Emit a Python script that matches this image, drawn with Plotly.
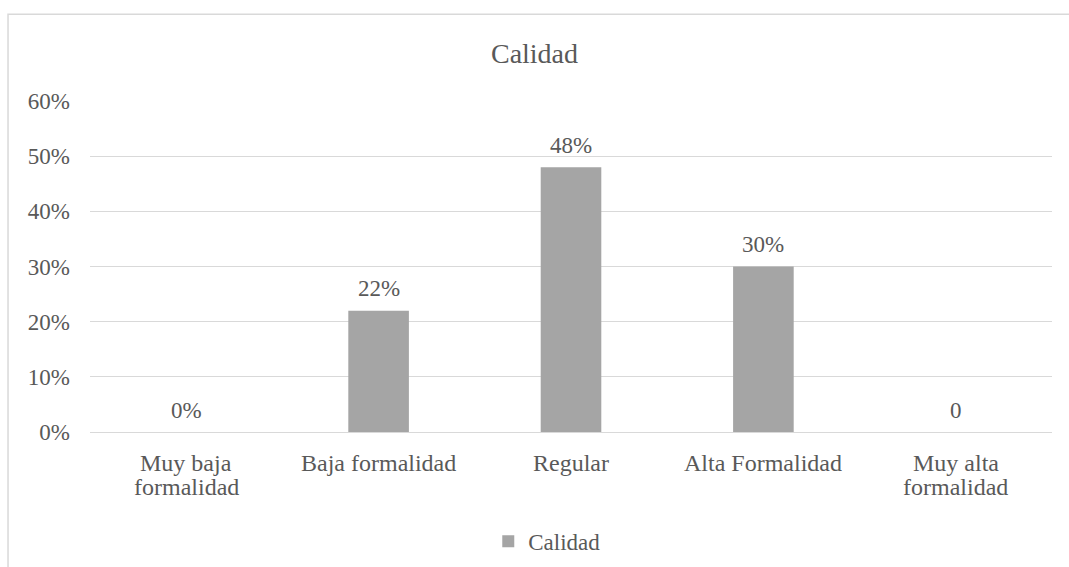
import plotly.graph_objects as go

categories = ["Muy baja formalidad", "Baja formalidad", "Regular", "Alta Formalidad", "Muy alta formalidad"]
category_lines = [["Muy baja", "formalidad"], ["Baja formalidad"], ["Regular"], ["Alta Formalidad"], ["Muy alta", "formalidad"]]
values = [0.0, 0.22, 0.48, 0.30, 0.0]
labels = ["0%", "22%", "48%", "30%", "0"]
y_ticks = [0, 0.1, 0.2, 0.3, 0.4, 0.5, 0.6]
y_tick_text = ["0%", "10%", "20%", "30%", "40%", "50%", "60%"]

FONT = "Liberation Serif, Times New Roman, serif"
TXT = "#595959"
FS = 23

fig = go.Figure()
fig.add_trace(go.Bar(
    x=categories, y=values, name="Calidad",
    marker=dict(color="#A5A5A5", line=dict(width=0)),
    showlegend=True,
))

annotations = []
for c, v, t in zip(categories, values, labels):
    annotations.append(dict(x=c, y=v, xref="x", yref="y", text=t, showarrow=False,
                            yanchor="middle", yshift=22,
                            font=dict(family=FONT, size=FS, color=TXT)))
for c, lines in zip(categories, category_lines):
    for i, ln in enumerate(lines):
        annotations.append(dict(x=c, y=0, xref="x", yref="y", text=ln, showarrow=False,
                                yanchor="middle", yshift=-31 - 24 * i,
                                font=dict(family=FONT, size=FS + 1, color=TXT)))

fig.update_layout(
    width=1069, height=567,
    margin=dict(l=90, r=17, t=101, b=135, autoexpand=False),
    paper_bgcolor="white", plot_bgcolor="white",
    bargap=0.685,
    font=dict(family=FONT, color=TXT, size=FS),
    title=dict(text="Calidad", x=0.5, xanchor="center", y=0.9065, yanchor="middle",
               font=dict(family=FONT, size=28, color=TXT)),
    xaxis=dict(showgrid=False, showline=True, linecolor="#D9D9D9", linewidth=1,
               ticks="", showticklabels=False),
    yaxis=dict(range=[0, 0.6], tickvals=y_ticks, ticktext=y_tick_text,
               showgrid=True, gridcolor="#D9D9D9", gridwidth=1,
               zeroline=False, showline=False, ticks="",
               tickfont=dict(family=FONT, size=FS, color=TXT), ticklabelstandoff=19),
    legend=dict(orientation="h", x=0.414, xanchor="left", y=-0.33, yanchor="middle",
                font=dict(family=FONT, size=FS, color=TXT)),
    annotations=annotations,
    shapes=[dict(type="rect", xref="paper", yref="paper",
                 x0=-0.0852, x1=1.2, y0=-1.0, y1=1.262,
                 line=dict(color="#D9D9D9", width=1.5), fillcolor="rgba(0,0,0,0)", layer="below")],
)

fig.write_html("out.html")
